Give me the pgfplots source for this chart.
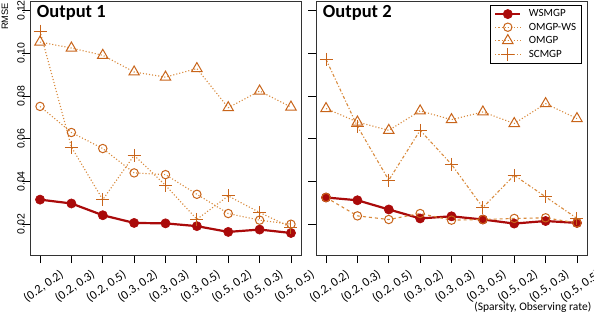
\documentclass[border=0pt]{standalone}
\usepackage{fontspec}
\setmainfont{Carlito}
\newfontfamily\arialfont{Liberation Sans}
\usepackage{pgfplots}
\pgfplotsset{compat=1.18}
\definecolor{wsred}{HTML}{AA0A0A}
\definecolor{orm}{HTML}{C8641A}
\definecolor{orl}{HTML}{D98A3C}
\pgfplotsset{
  panel/.style={
    scale only axis, width=271pt, height=254pt,
    anchor=south west,
    xmin=-0.32, xmax=8.32, ymin=0.0056, ymax=0.1244,
    xtick={0,...,8},
    xticklabels={{(0.2, 0.2)},{(0.2, 0.3)},{(0.2, 0.5)},{(0.3, 0.2)},{(0.3, 0.3)},{(0.3, 0.5)},{(0.5, 0.2)},{(0.5, 0.3)},{(0.5, 0.5)}},
    ytick={0.02,0.04,0.06,0.08,0.10,0.12},
    tick align=outside, major tick length=8pt,
    xtick pos=bottom, ytick pos=left,
    axis line style={black!80, line width=0.9pt},
    every tick/.style={black, line width=0.8pt},
    x tick label style={font=\fontsize{12.5}{13}\selectfont, inner sep=0pt, xshift=19pt, yshift=-5.5pt, rotate=35, anchor=north east},
    /pgf/number format/assume math mode=true,
    /pgf/number format/fixed, /pgf/number format/fixed zerofill, /pgf/number format/precision=2,
    yticklabel style={font=\arialfont\fontsize{10.5}{11}\selectfont, inner sep=0pt, xshift=3pt, rotate=90, anchor=south},
    clip=false,
  },
  wsm/.style={wsred, line width=2.2pt, mark=*, mark size=4.6pt, mark options={solid, fill=wsred, draw=wsred, line width=0.6pt}},
  omws/.style={orl, line width=1.1pt, mark=o, mark size=4.2pt, mark options={solid, draw=orm, line width=1pt}},
  omgp/.style={orl, line width=1.1pt, dotted, mark=triangle, mark size=6pt, mark options={solid, draw=orm, line width=1pt}},
  scm/.style={orl, line width=1.1pt, mark=+, mark size=6.5pt, mark options={solid, draw=orm, line width=1pt}},
}
\begin{document}
\begin{tikzpicture}
\useasboundingbox (0,0) rectangle (594pt,314pt);
\begin{axis}[panel, at={(30pt,59pt)}]
\addplot[wsm] coordinates {(0,0.0315)(1,0.0297)(2,0.0242)(3,0.0206)(4,0.0204)(5,0.0191)(6,0.0164)(7,0.0175)(8,0.0159)};
\addplot[omws, dotted] coordinates {(0,0.0751)(1,0.0629)(2,0.0554)(3,0.0440)(4,0.0432)(5,0.0340)(6,0.0250)(7,0.0219)(8,0.0200)};
\addplot[omgp] coordinates {(0,0.1052)(1,0.1024)(2,0.0990)(3,0.0912)(4,0.0888)(5,0.0928)(6,0.0745)(7,0.0823)(8,0.0748)};
\addplot[scm, dotted] coordinates {(0,0.1103)(1,0.0561)(2,0.0315)(3,0.0522)(4,0.0382)(5,0.0223)(6,0.0332)(7,0.0255)(8,0.0185)};
\node[anchor=north west, font=\bfseries\fontsize{18.5}{19}\selectfont, inner sep=0pt] at (rel axis cs:0.025,0.985) {Output 1};
\end{axis}
\node[font=\arialfont\fontsize{9.3}{10}\selectfont, rotate=90, inner sep=0pt] at (5pt,297.5pt) {RMSE};
\begin{axis}[panel, at={(316pt,59pt)}, yticklabels={},
  legend style={at={(0.9815,0.985)}, anchor=north east, draw=black, line width=0.9pt, font=\fontsize{11}{12}\selectfont, inner xsep=4pt, inner ysep=3pt, row sep=1.5pt, nodes={inner sep=1.5pt}, /tikz/every odd column/.append style={column sep=6pt}},
  legend cell align=left,
  legend image code/.code={\draw[mark repeat=2, mark phase=2, #1] plot coordinates {(0pt,0pt) (12.5pt,0pt) (25pt,0pt)};}]
\addplot[wsm, forget plot] coordinates {(0,0.0325)(1,0.0312)(2,0.0269)(3,0.0227)(4,0.0237)(5,0.0222)(6,0.0203)(7,0.0215)(8,0.0206)};
\addplot[omws, dashed, forget plot] coordinates {(0,0.0325)(1,0.0239)(2,0.0222)(3,0.0250)(4,0.0219)(5,0.0222)(6,0.0227)(7,0.0230)(8,0.0206)};
\addplot[omgp, forget plot] coordinates {(0,0.0741)(1,0.0678)(2,0.0639)(3,0.0730)(4,0.0689)(5,0.0725)(6,0.0671)(7,0.0764)(8,0.0694)};
\addplot[scm, dash dot, forget plot] coordinates {(0,0.0971)(1,0.0658)(2,0.0406)(3,0.0639)(4,0.0480)(5,0.0278)(6,0.0429)(7,0.0328)(8,0.0227)};
\node[anchor=north west, font=\bfseries\fontsize{18.5}{19}\selectfont, inner sep=0pt] at (rel axis cs:0.025,0.985) {Output 2};
\addlegendimage{wsm}
\addlegendimage{omws, dotted}
\addlegendimage{omgp}
\addlegendimage{scm, dotted}
\legend{WSMGP, OMGP-WS, OMGP, SCMGP}
\end{axis}
\node[anchor=south east, font=\fontsize{11.5}{12}\selectfont, inner sep=0pt] at (591.5pt,1.5pt) {(Sparsity, Observing rate)};
\end{tikzpicture}
\end{document}
